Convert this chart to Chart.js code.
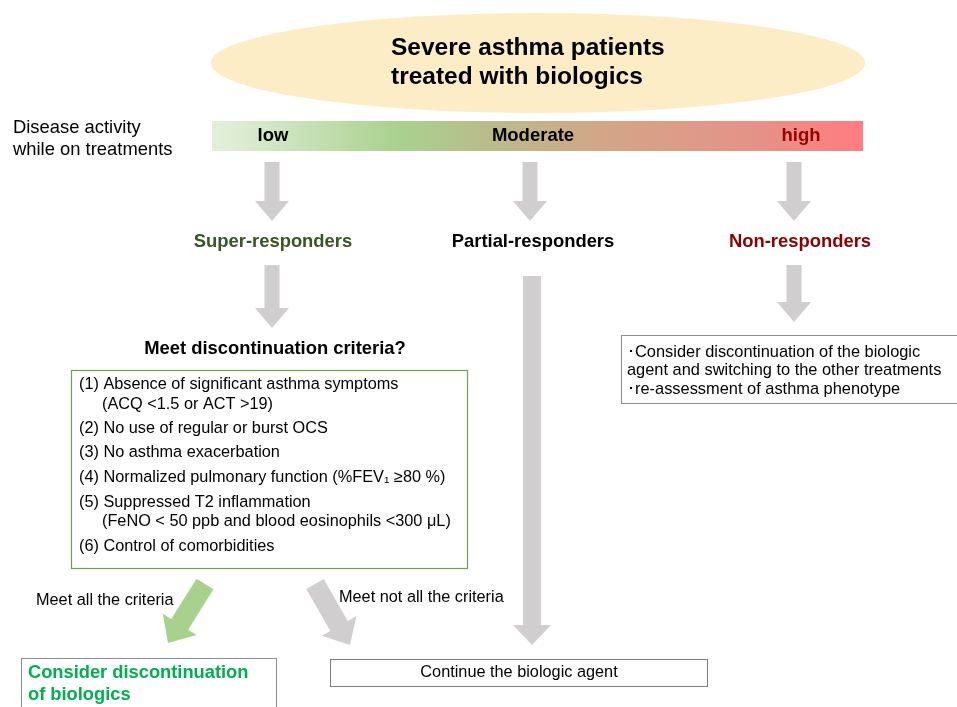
<!DOCTYPE html>
<html><head><meta charset="utf-8">
<script src="https://cdn.jsdelivr.net/npm/chart.js@4.4.1/dist/chart.umd.min.js"></script>
<style>html,body{margin:0;padding:0;background:#fff;}canvas{display:block;}</style>
</head><body>
<canvas id="c" width="957" height="707"></canvas>
<script>
// ---- content ----
const titleLines = ["Severe asthma patients", "treated with biologics"];
const axisLabel = ["Disease activity", "while on treatments"];
const activityLevels = ["low", "Moderate", "high"];
const responderGroups = ["Super-responders", "Partial-responders", "Non-responders"];
const criteriaQuestion = "Meet discontinuation criteria?";
const criteriaLines = [
  "(1) Absence of significant asthma symptoms",
  "(ACQ <1.5 or ACT >19)",
  "(2) No use of regular or burst OCS",
  "(3) No asthma exacerbation",
  "(4) Normalized pulmonary function (%FEV\u2081 \u226580 %)",
  "(5) Suppressed T2 inflammation",
  "(FeNO < 50 ppb and blood eosinophils <300 \u03bcL)",
  "(6) Control of comorbidities"
];
const nonResponderLines = [
  "\uFF65Consider discontinuation of the biologic",
  "agent and switching to the other treatments",
  "\uFF65re-assessment of asthma phenotype"
];
const branchLabels = ["Meet all the criteria", "Meet not all the criteria"];
const outcomeDiscontinue = ["Consider discontinuation", "of biologics"];
const outcomeContinue = "Continue the biologic agent";

// ---- layout (pixel coords in a 957 x 707 frame) ----
const L = {
  levelX: [273, 533, 801],
  groupX: [273, 533, 800],
  arrowX: [272, 530, 794],
  critY: [385, 405, 429, 453, 478, 503, 522, 547],
  critIndent: [0, 1, 0, 0, 0, 0, 1, 0],
  nonY: [352, 370, 389]
};
const FONT = '"Liberation Sans", Arial, sans-serif';
const GRAY = '#D0CECE';

const drawPlugin = {
  id: 'flow',
  afterDraw(chart) {
    const ctx = chart.ctx, xs = chart.scales.x, ys = chart.scales.y;
    const X = v => xs.getPixelForValue(v), Y = v => ys.getPixelForValue(v);
    ctx.save();
    ctx.textBaseline = 'middle';
    function text(s, x, y, font, color, align) {
      ctx.font = font; ctx.fillStyle = color; ctx.textAlign = align || 'left';
      ctx.fillText(s, X(x), Y(y));
    }
    function rect(x1, y1, x2, y2, stroke, lw) {
      ctx.strokeStyle = stroke; ctx.lineWidth = lw || 1;
      ctx.strokeRect(X(x1) + 0.5, Y(y1) + 0.5, X(x2) - X(x1), Y(y2) - Y(y1));
    }
    function arrow(x1, y1, x2, y2, sw, hw, hl, color) {
      const ax = X(x1), ay = Y(y1), bx = X(x2), by = Y(y2);
      const dx = bx - ax, dy = by - ay, len = Math.hypot(dx, dy);
      const ux = dx / len, uy = dy / len, px = -uy, py = ux;
      const hx = bx - ux * hl, hy = by - uy * hl;
      ctx.fillStyle = color;
      ctx.beginPath();
      ctx.moveTo(ax + px * sw / 2, ay + py * sw / 2);
      ctx.lineTo(hx + px * sw / 2, hy + py * sw / 2);
      ctx.lineTo(hx + px * hw / 2, hy + py * hw / 2);
      ctx.lineTo(bx, by);
      ctx.lineTo(hx - px * hw / 2, hy - py * hw / 2);
      ctx.lineTo(hx - px * sw / 2, hy - py * sw / 2);
      ctx.lineTo(ax - px * sw / 2, ay - py * sw / 2);
      ctx.closePath(); ctx.fill();
    }
    // ellipse
    ctx.fillStyle = '#FCEDC6';
    ctx.beginPath();
    ctx.ellipse(X(538), Y(63), X(865) - X(538), Y(113) - Y(63), 0, 0, Math.PI * 2);
    ctx.fill();
    text(titleLines[0], 391, 48, 'bold 24.5px ' + FONT, '#000');
    text(titleLines[1], 391, 77, 'bold 24.5px ' + FONT, '#000');

    // gradient bar
    const g = ctx.createLinearGradient(X(212), 0, X(863), 0);
    g.addColorStop(0, '#E4F0DC');
    g.addColorStop(0.29, '#A9D18E');
    g.addColorStop(0.45, '#BDB88A');
    g.addColorStop(0.6, '#D3A688');
    g.addColorStop(0.85, '#E79087');
    g.addColorStop(1, '#FF7C80');
    ctx.fillStyle = g;
    ctx.fillRect(X(212), Y(121), X(863) - X(212), Y(151) - Y(121));
    text(activityLevels[0], L.levelX[0], 136, 'bold 18.5px ' + FONT, '#000', 'center');
    text(activityLevels[1], L.levelX[1], 136, 'bold 18.5px ' + FONT, '#000', 'center');
    text(activityLevels[2], L.levelX[2], 136, 'bold 18.5px ' + FONT, '#990000', 'center');
    text(axisLabel[0], 13, 128, '18.4px ' + FONT, '#000');
    text(axisLabel[1], 13, 150, '18.4px ' + FONT, '#000');

    // arrows to responder groups
    L.arrowX.forEach(x => arrow(x, 162, x, 221, 15, 34, 20, GRAY));
    text(responderGroups[0], L.groupX[0], 242, 'bold 18.4px ' + FONT, '#375623', 'center');
    text(responderGroups[1], L.groupX[1], 242, 'bold 18.4px ' + FONT, '#000', 'center');
    text(responderGroups[2], L.groupX[2], 242, 'bold 18.4px ' + FONT, '#8B0000', 'center');

    arrow(272, 265, 272, 328, 15, 34, 20, GRAY);
    arrow(794, 265, 794, 322, 15, 34, 20, GRAY);
    arrow(532, 276, 532, 645, 18, 38, 20, GRAY);

    // criteria
    text(criteriaQuestion, 275, 349, 'bold 18.4px ' + FONT, '#000', 'center');
    rect(71, 370, 467, 568, '#70A04C', 1.2);
    criteriaLines.forEach((s, i) => {
      text(s, L.critIndent[i] ? 102 : 79, L.critY[i], '16.3px ' + FONT, '#000');
    });

    // non-responder box
    rect(621, 335, 960, 403, '#8C8C8C', 1);
    nonResponderLines.forEach((s, i) => text(s, 627, L.nonY[i], '16.4px ' + FONT, '#000'));

    // branches
    arrow(205, 584, 168, 643, 20, 40, 22, '#A9D18E');
    arrow(315, 584, 350, 645, 20, 40, 22, GRAY);
    text(branchLabels[0], 36, 601, '16.3px ' + FONT, '#000');
    text(branchLabels[1], 339, 598, '16.3px ' + FONT, '#000');

    // outcomes
    rect(21, 658, 276, 712, '#8C8C8C', 1);
    text(outcomeDiscontinue[0], 28, 673, 'bold 18.3px ' + FONT, '#00B050');
    text(outcomeDiscontinue[1], 28, 695, 'bold 18.3px ' + FONT, '#00B050');
    rect(330, 659, 707, 686, '#7F7F7F', 1);
    text(outcomeContinue, 519, 673, '16.3px ' + FONT, '#000', 'center');
    ctx.restore();
  }
};

new Chart(document.getElementById('c'), {
  type: 'scatter',
  data: { datasets: [{ data: [], showLine: false }] },
  options: {
    responsive: false, animation: false, devicePixelRatio: 1,
    layout: { padding: 0 },
    plugins: { legend: { display: false }, tooltip: { enabled: false } },
    scales: {
      x: { type: 'linear', min: 0, max: 957, display: false },
      y: { type: 'linear', min: 0, max: 707, reverse: true, display: false }
    }
  },
  plugins: [drawPlugin]
});
</script>
</body></html>
